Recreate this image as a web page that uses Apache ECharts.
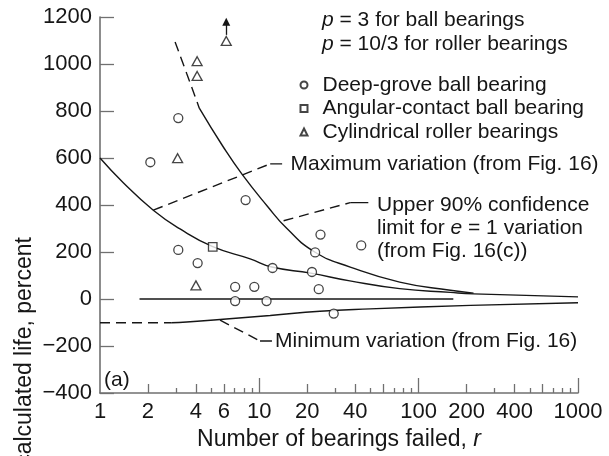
<!DOCTYPE html>
<html>
<head>
<meta charset="utf-8">
<title>Calculated life vs. number of bearings failed</title>
<script src="https://cdn.jsdelivr.net/npm/echarts@6/dist/echarts.min.js"></script>
<style>
  html, body { margin: 0; padding: 0; background: #fff; }
  #chart { width: 609px; height: 456px; }
</style>
</head>
<body>
<div id="chart"></div>
<script>
// values: [bearings failed r, percent]
const deepGroove = [[2.07, 582], [3.1, 770], [8.2, 421], [3.1, 209], [4.1, 153], [12.1, 132],
  [7.05, 52], [9.3, 52], [7.05, -9], [11.1, -9], [24.2, 274], [43.6, 228], [22.4, 198],
  [21.4, 115], [23.6, 42], [29.3, -62]];
const angularContact = [[5.1, 222]];
const cylindrical = [[6.2, 1098], [4.07, 1012], [4.07, 949], [3.07, 599], [4.0, 58]];
const arrowFrom = [6.2, 1124];
const arrowTo = [6.2, 1180];

const upper90Dashed = [[2.96, 1094], [3.5, 960], [4.2, 812]];
const upper90 = [[4.2, 812], [5.9, 650], [7.8, 530], [11.2, 396], [14.9, 300], [22.4, 199],
  [37.2, 136], [76, 72], [158, 37], [221, 25]];
const maxVariation = [[1, 600], [1.4, 495], [2.16, 378], [3.18, 298], [5.1, 223], [8.76, 171],
  [12, 136], [21, 110], [37, 77], [76, 44], [158, 28], [221, 22], [1000, 9]];
const minVariationDashed = [[1, -101], [2.8, -101]];
const minVariation = [[2.8, -101], [3.5, -98], [5.67, -87], [11.7, -70], [24, -52], [49.6, -42],
  [211, -27], [1000, -16]];
const zeroLine = [[1.77, 0], [165, 0]];

// leader lines from the notes to their curves
const maxLeaderDashed = [[2.16, 378], [11.7, 575]];
const maxLeader = [[11.7, 575], [13.9, 575]];
const upperLeaderDashed = [[14.2, 333], [37.2, 410]];
const upperLeader = [[37.2, 410], [48.3, 410]];
const minLeaderDashed = [[5.67, -90], [10.1, -179]];
const minLeader = [[10.1, -179], [12.0, -179]];

const yMin = -400, yMax = 1200, yStep = 200;
const xTickLabels = [1, 2, 4, 6, 10, 20, 40, 100, 200, 400, 1000];
const xMajorTicks = [10, 100, 1000];
const xMidTicks = [2, 4, 6, 20, 40, 60, 200, 400, 600];
const xMinorTicks = [3, 5, 7, 8, 9, 30, 50, 70, 80, 90, 300, 500, 700, 800, 900];

const FONT = '"Liberation Sans", Arial, Helvetica, sans-serif';
const INK = '#161616';
const AXIS = '#707070';

const lg = v => Math.log10(v);

function curve(data, dashed, smooth) {
  return {
    type: 'line', data: data, xAxisIndex: 0, yAxisIndex: 0,
    symbol: 'none', showSymbol: false, silent: true,
    smooth: smooth ? 0.5 : false,
    lineStyle: { color: INK, width: 1.4, type: dashed ? [10, 6] : 'solid' },
    z: 2
  };
}

// value axes in log10 units only carry the ticks and labels of the log axis
function tickAxis(values, len, labels) {
  const ax = {
    type: 'value', min: 0, max: 3, position: 'bottom',
    axisLine: { show: false, onZero: false },
    splitLine: { show: false },
    axisTick: { show: true, inside: true, length: len, customValues: values.map(lg),
      lineStyle: { color: AXIS, width: 1.3 } },
    axisLabel: { show: false }
  };
  if (labels) {
    ax.axisLabel = {
      show: true, customValues: labels.map(lg), margin: 8,
      fontSize: 22, fontFamily: FONT, color: INK,
      formatter: v => String(Math.round(Math.pow(10, v)))
    };
    ax.name = '{t|Number of bearings failed, }{i|r}';
    ax.nameLocation = 'middle';
    ax.nameGap = 35;
    ax.nameTextStyle = {
      rich: {
        t: { fontSize: 23, fontFamily: FONT, color: INK },
        i: { fontSize: 23, fontFamily: FONT, color: INK, fontStyle: 'italic' }
      }
    };
  }
  return ax;
}

function note(x, y, text, size) {
  return {
    type: 'text', x: x, y: y, silent: true,
    style: {
      text: text, fill: INK, font: (size || 21) + 'px ' + FONT,
      align: 'left', verticalAlign: 'middle', textAlign: 'left', textVerticalAlign: 'middle',
      rich: {
        i: { fontStyle: 'italic', fontSize: size || 21, fontFamily: FONT, fill: INK, color: INK }
      }
    }
  };
}

const marker = { color: '#fff', borderColor: INK, borderWidth: 1.3 };

const chart = echarts.init(document.getElementById('chart'));
chart.setOption({
  animation: false,
  backgroundColor: '#fff',
  grid: { left: 100, right: 31, top: 17, bottom: 61, containLabel: false },
  xAxis: [
    {
      type: 'log', logBase: 10, min: 1, max: 1000, position: 'bottom',
      axisLine: { show: true, onZero: false, lineStyle: { color: AXIS, width: 1.6 } },
      axisTick: { show: false }, axisLabel: { show: false }, splitLine: { show: false }
    },
    tickAxis(xMidTicks, 9, xTickLabels),
    tickAxis(xMinorTicks, 5),
    tickAxis(xMajorTicks, 15)
  ],
  yAxis: {
    type: 'value', min: yMin, max: yMax, interval: yStep,
    axisLine: { show: true, lineStyle: { color: AXIS, width: 1.6 } },
    axisTick: { show: true, inside: true, length: 14, lineStyle: { color: AXIS, width: 1.3 } },
    axisLabel: { fontSize: 22, margin: 8, color: INK, fontFamily: FONT,
      formatter: v => String(v).replace('-', '\u2212') },
    splitLine: { show: false }
  },
  legend: {
    orient: 'vertical', left: 299.5, top: 73.5, padding: 0,
    itemWidth: 7, itemHeight: 7, itemGap: 0.5, selectedMode: false,
    textStyle: { fontSize: 21, fontFamily: FONT, color: INK, lineHeight: 23, padding: [0, 0, 0, 10] },
    data: ['Deep-grove ball bearing', 'Angular-contact ball bearing', 'Cylindrical roller bearings']
  },
  graphic: [
    note(322, 20, '{i|p} = 3 for ball bearings'),
    note(322, 44, '{i|p} = 10/3 for roller bearings'),
    note(290.5, 164, 'Maximum variation (from Fig. 16)'),
    note(377, 205, 'Upper 90% confidence'),
    note(377, 228, 'limit for {i|e} = 1 variation'),
    note(377, 251, '(from Fig. 16(c))'),
    note(275, 341, 'Minimum variation (from Fig. 16)'),
    note(104, 380, '(a)'),
    {
      type: 'text', x: 25, y: 237, rotation: Math.PI / 2, silent: true,
      style: {
        text: 'calculated life, percent', fill: INK, font: '23px ' + FONT,
        align: 'right', verticalAlign: 'middle', textAlign: 'right', textVerticalAlign: 'middle'
      }
    }
  ],
  series: [
    curve(upper90Dashed, true, true),
    curve(upper90, false, true),
    curve(maxVariation, false, true),
    curve(minVariationDashed, true, false),
    curve(minVariation, false, true),
    curve(zeroLine, false, false),
    curve(maxLeaderDashed, true, false),
    curve(maxLeader, false, false),
    curve(upperLeaderDashed, true, false),
    curve(upperLeader, false, false),
    curve(minLeaderDashed, true, false),
    curve(minLeader, false, false),
    {
      name: 'Deep-grove ball bearing', type: 'scatter', data: deepGroove,
      symbol: 'circle', symbolSize: 9, itemStyle: marker, z: 5
    },
    {
      name: 'Angular-contact ball bearing', type: 'scatter', data: angularContact,
      symbol: 'rect', symbolSize: 8.5, itemStyle: marker, z: 5
    },
    {
      name: 'Cylindrical roller bearings', type: 'scatter', data: cylindrical,
      symbol: 'triangle', symbolSize: [10, 9], itemStyle: marker, z: 5,
      markLine: {
        silent: true, symbol: ['none', 'triangle'], symbolSize: 8,
        label: { show: false },
        lineStyle: { color: INK, width: 1.3, type: 'solid' },
        emphasis: { disabled: true },
        data: [[{ coord: arrowFrom }, { coord: arrowTo }]]
      }
    }
  ]
});
</script>
</body>
</html>
